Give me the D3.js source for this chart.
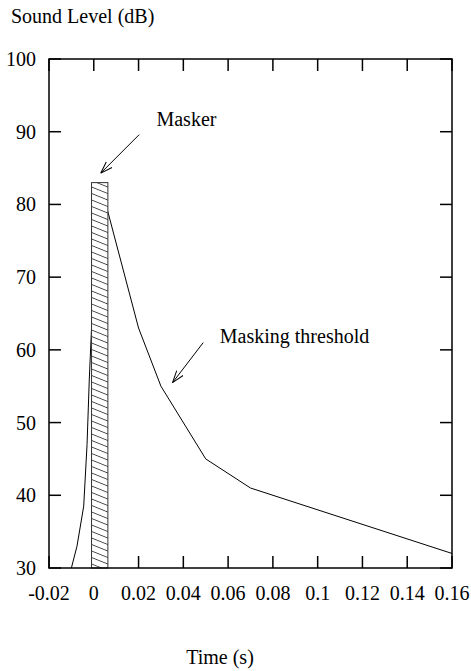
<!DOCTYPE html>
<html>
<head>
<meta charset="utf-8">
<script src="https://cdn.jsdelivr.net/npm/d3@7"></script>
<style>
  body { margin: 0; background: #fff; }
</style>
</head>
<body>
<svg id="chart" width="471" height="671"></svg>
<script>
// masking threshold curve (time in s, level in dB)
var thresholdTime  = [-0.01, -0.0075, -0.0045, -0.003, -0.002, -0.001, 0.0, 0.005, 0.02, 0.03, 0.05, 0.07, 0.16];
var thresholdLevel = [30, 33, 38.5, 47, 56, 63, 70, 80.5, 63, 55, 45, 41, 32];

// masker block
var maskerTime = [-0.001, 0.0063];
var maskerLevel = 83;

var xTicks = [-0.02, 0, 0.02, 0.04, 0.06, 0.08, 0.1, 0.12, 0.14, 0.16];
var yTicks = [30, 40, 50, 60, 70, 80, 90, 100];

// annotations: label, text position, arrow from, arrow to
var labels = ["Masker", "Masking threshold"];
var labelAt = [[0.028, 90.8], [0.0563, 61]];
var arrowFrom = [[0.0203, 89.6], [0.0489, 61]];
var arrowTo = [[0.0031, 84.3], [0.0352, 55.5]];

var margin = {top: 59, right: 19, bottom: 103, left: 49},
    width = 471,
    height = 671;

var x = d3.scaleLinear()
    .domain([-0.02, 0.16])
    .range([margin.left, width - margin.right]);

var y = d3.scaleLinear()
    .domain([30, 100])
    .range([height - margin.bottom, margin.top]);

var svg = d3.select("#chart");

var label = (g, tx, ty, t) => g.append("text")
    .attr("x", tx).attr("y", ty)
    .attr("font-family", "Liberation Serif")
    .attr("font-size", 20)
    .attr("fill", "#000")
    .text(t);

var defs = svg.append("defs");
defs.append("pattern")
    .attr("id", "hatch")
    .attr("patternUnits", "userSpaceOnUse")
    .attr("width", 10)
    .attr("height", 6.5)
    .attr("patternTransform", "skewY(22)")
  .append("line")
    .attr("x1", 0).attr("x2", 10)
    .attr("y1", 0.5).attr("y2", 0.5)
    .attr("stroke", "#222")
    .attr("stroke-width", 0.8);

defs.append("marker")
    .attr("id", "head")
    .attr("viewBox", "0 -6 12 12")
    .attr("refX", 12)
    .attr("refY", 0)
    .attr("markerWidth", 12)
    .attr("markerHeight", 12)
    .attr("markerUnits", "userSpaceOnUse")
    .attr("orient", "auto")
  .append("path")
    .attr("d", "M0,-4L12,0L0,4")
    .attr("fill", "none")
    .attr("stroke", "#000")
    .attr("stroke-width", 1);

// threshold line (partly hidden behind masker)
var line = d3.line()
    .x(d => x(d[0]))
    .y(d => y(d[1]));

svg.append("path")
    .datum(d3.zip(thresholdTime, thresholdLevel))
    .attr("fill", "none")
    .attr("stroke", "#000")
    .attr("stroke-width", 1)
    .attr("d", line);

// ticks (drawn before masker so it covers the 0 tick)
var tickLen = 12;
var ticks = svg.append("g").attr("stroke", "#000").attr("stroke-width", 1.5);

ticks.selectAll(".xb").data(xTicks).join("line")
    .attr("x1", d => x(d)).attr("x2", d => x(d))
    .attr("y1", y(30)).attr("y2", y(30) - tickLen);
ticks.selectAll(".xt").data(xTicks).join("line")
    .attr("x1", d => x(d)).attr("x2", d => x(d))
    .attr("y1", y(100)).attr("y2", y(100) + tickLen);
ticks.selectAll(".yl").data(yTicks).join("line")
    .attr("x1", x(-0.02)).attr("x2", x(-0.02) + tickLen)
    .attr("y1", d => y(d)).attr("y2", d => y(d));
ticks.selectAll(".yr").data(yTicks).join("line")
    .attr("x1", x(0.16)).attr("x2", x(0.16) - tickLen)
    .attr("y1", d => y(d)).attr("y2", d => y(d));

// masker
var mx = x(maskerTime[0]), mw = x(maskerTime[1]) - x(maskerTime[0]);
svg.append("rect")
    .attr("x", mx).attr("y", y(maskerLevel))
    .attr("width", mw).attr("height", y(30) - y(maskerLevel))
    .attr("fill", "#fff");
svg.append("rect")
    .attr("x", mx).attr("y", y(maskerLevel))
    .attr("width", mw).attr("height", y(30) - y(maskerLevel))
    .attr("fill", "url(#hatch)")
    .attr("stroke", "#333")
    .attr("stroke-width", 1);

// frame
svg.append("rect")
    .attr("x", x(-0.02)).attr("y", y(100))
    .attr("width", x(0.16) - x(-0.02)).attr("height", y(30) - y(100))
    .attr("fill", "none")
    .attr("stroke", "#000")
    .attr("stroke-width", 1.5);

// tick labels
var gx = svg.append("g");
xTicks.forEach(d => label(gx, x(d), y(30) + 32, d).attr("text-anchor", "middle"));

var gy = svg.append("g");
yTicks.forEach(d => label(gy, x(-0.02) - 13, y(d) + 7, d).attr("text-anchor", "end"));

// axis titles
label(svg, 11, 23, "Sound Level (dB)");
label(svg, 220, 664, "Time (s)").attr("text-anchor", "middle");

// annotations
labels.forEach((t, i) => {
    label(svg, x(labelAt[i][0]), y(labelAt[i][1]), t);
    svg.append("line")
        .attr("x1", x(arrowFrom[i][0])).attr("y1", y(arrowFrom[i][1]))
        .attr("x2", x(arrowTo[i][0])).attr("y2", y(arrowTo[i][1]))
        .attr("stroke", "#000")
        .attr("stroke-width", 1)
        .attr("marker-end", "url(#head)");
});
</script>
</body>
</html>
